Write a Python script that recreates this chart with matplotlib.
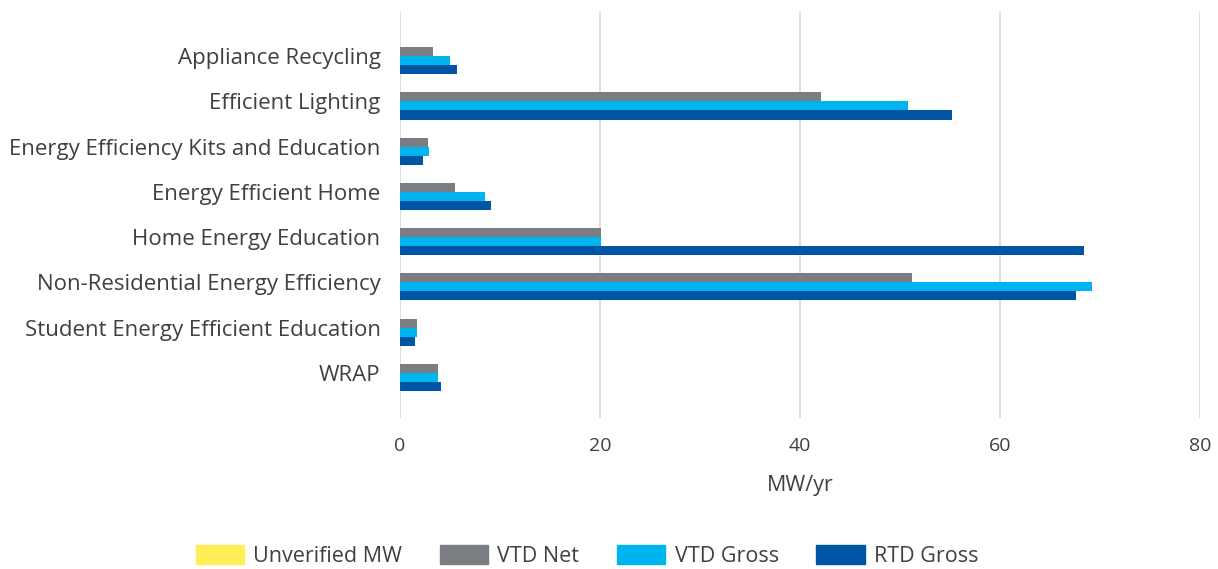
import numpy as np
import matplotlib
matplotlib.use('Agg')
import matplotlib.pyplot as plt
from matplotlib.patches import Patch

categories = ['Appliance Recycling', 'Efficient Lighting', 'Energy Efficiency Kits and Education',
              'Energy Efficient Home', 'Home Energy Education', 'Non-Residential Energy Efficiency',
              'Student Energy Efficient Education', 'WRAP']
unverified = [0, 0, 0, 0, 0, 0, 0, 0]
vtd_net    = [3.3, 42.1, 2.8, 5.5, 20.1, 51.2, 1.7, 3.8]
vtd_gross  = [5.0, 50.8, 2.9, 8.5, 20.1, 69.2, 1.7, 3.8]
rtd_gross  = [5.7, 55.2, 2.3, 9.1, 68.4, 67.6, 1.5, 4.1]

series = [('Unverified MW', unverified, '#FFEE58'),
          ('VTD Net', vtd_net, '#7A7E82'),
          ('VTD Gross', vtd_gross, '#00B4EF'),
          ('RTD Gross', rtd_gross, '#0055A4')]

plt.rcParams['font.family'] = ['Open Sans', 'DejaVu Sans']
txt = '#404040'
fs = 15.5

fig = plt.figure(figsize=(12.18, 5.69), dpi=100)
ax = fig.add_axes([400/1218, 1-418/569, 800/1218, 407/569])

y = np.arange(len(categories))
h = 0.2
for i, (name, vals, col) in enumerate(series):
    ax.barh(y + (i - 1.5)*h, vals, height=h, color=col, label=name, zorder=3)

ax.set_xlim(0, 80)
ax.set_ylim(8.0, -1.0)
ax.set_xticks([0, 20, 40, 60, 80])
ax.set_yticks(y)
ax.set_yticklabels(categories, fontsize=16, color=txt)
ax.tick_params(axis='x', labelsize=14, colors=txt, length=0, pad=14)
ax.tick_params(axis='y', length=0, pad=14)
ax.grid(axis='x', color='#D9D9D9', lw=1.2, zorder=0)
for s in ax.spines.values():
    s.set_visible(False)
ax.set_xlabel('MW/yr', fontsize=fs, color=txt, labelpad=14)

handles = [Patch(color=c, label=n) for n, _, c in series]
fig.legend(handles=handles, loc='center', bbox_to_anchor=(0.482, 1-556/569), ncol=4,
           frameon=False, fontsize=fs, handlelength=2.25, handleheight=1.0,
           handletextpad=0.42, columnspacing=1.75, labelcolor=txt)

fig.savefig('out.png', dpi=100)
